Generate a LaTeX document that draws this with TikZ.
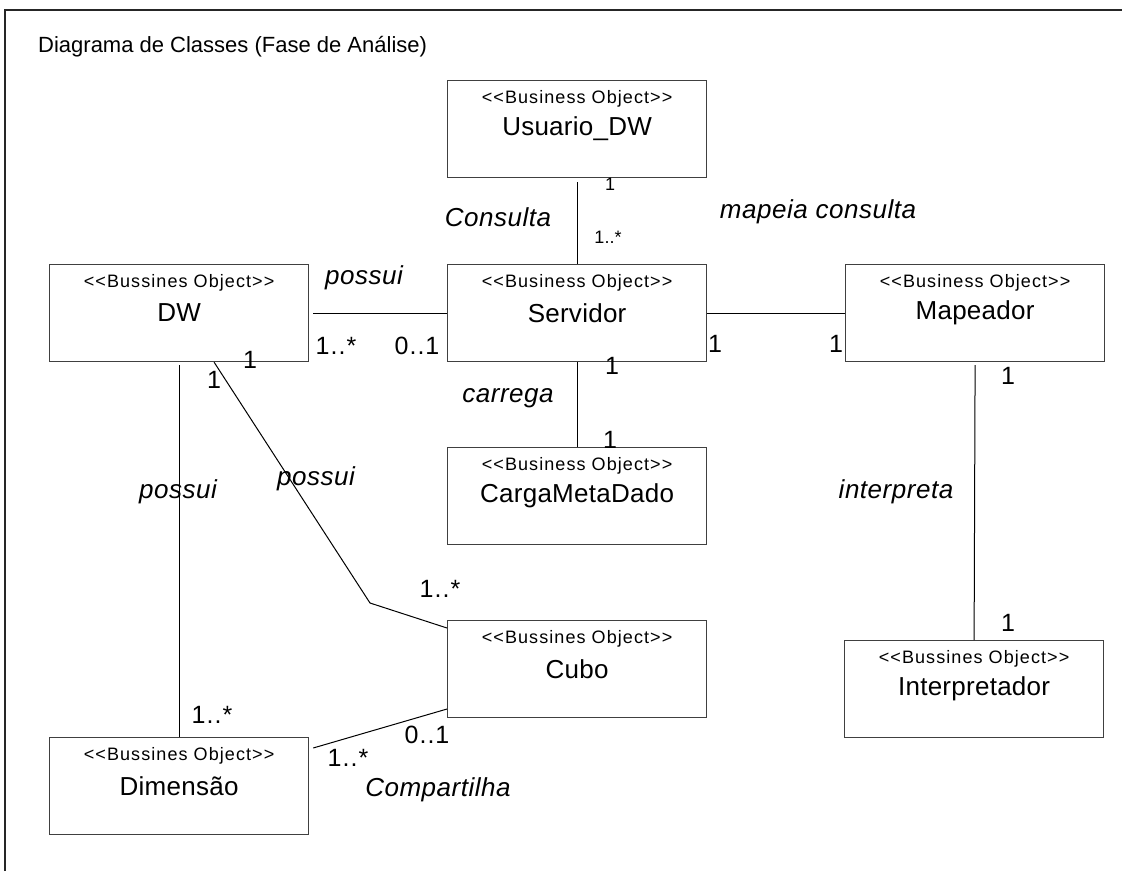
\documentclass[tikz,border=0pt]{standalone}
\usepackage{fontspec}
\setmainfont{Liberation Sans}
\begin{document}
\begin{tikzpicture}[x=1pt,y=-1pt,
  frame/.style={line width=2pt, draw=black!85},
  cls/.style={draw=black!75, line width=1.2pt, rectangle, minimum width=259pt, minimum height=97pt, inner sep=0pt, anchor=north west},
  stereo/.style={font=\fontsize{18}{20}\selectfont\addfontfeature{LetterSpace=6}, inner sep=0pt},
  cname/.style={font=\fontsize{26}{30}\selectfont\addfontfeature{LetterSpace=1}, inner sep=0pt},
  assoc/.style={draw=black, line width=1pt},
  lab/.style={font=\fontsize{26}{30}\selectfont\itshape\addfontfeature{LetterSpace=2}, inner sep=0pt},
  mult/.style={font=\fontsize{25}{29}\selectfont\addfontfeature{LetterSpace=4}, inner sep=0pt},
  smult/.style={font=\fontsize{18}{20}\selectfont, inner sep=0pt},
  ttl/.style={font=\fontsize{22}{26}\selectfont, inner sep=0pt, anchor=west}]
\useasboundingbox (0,0) rectangle (1122,871);
\newcommand{\umlclass}[4]{%
  \node[cls] (#1) at (#2) {};
  \node[stereo] (#1s) at ([yshift=-19pt]#1.north) {<{}<#3>{}>};
  \node[cname] (#1n) at ([yshift=-49pt]#1.north) {#4};}
% frame
\coordinate (fbl) at (5,871);
\coordinate (ftl) at (5,10);
\coordinate (ftr) at (1122,10);
\draw[frame] (fbl) -- (ftl) -- (ftr);
\node[ttl] (title) at (38,47) {Diagrama de Classes (Fase de Análise)};
% classes
\umlclass{usr}{447,80}{Business Object}{Usuario\_DW}
\umlclass{dw}{49,264}{Bussines Object}{DW}
\umlclass{srv}{447,264}{Business Object}{Servidor}
\umlclass{map}{845,264}{Business Object}{Mapeador}
\umlclass{carga}{447,447}{Business Object}{CargaMetaDado}
\umlclass{cubo}{447,620}{Bussines Object}{Cubo}
\umlclass{interp}{844,640}{Bussines Object}{Interpretador}
\umlclass{dim}{49,737}{Bussines Object}{Dimensão}
% associations
\draw[assoc] ([yshift=-4pt]usr.south) -- (srv.north);
\draw[assoc] ([xshift=4pt]dw.east) -- (srv.west);
\draw[assoc] (srv.east) -- (map.west);
\draw[assoc] (srv.south) -- (carga.north);
\draw[assoc] ([yshift=-3pt]map.south) -- (interp.north);
\draw[assoc] ([yshift=-3pt]dw.south) -- (dim.north);
\coordinate (bend) at (370,603);
\draw[assoc] ([xshift=35pt]dw.south) -- (bend) -- ([yshift=-8pt]cubo.north west);
\draw[assoc] ([yshift=-89pt]cubo.north west) -- ([xshift=4pt,yshift=-11pt]dim.north east);
% association labels
\node[lab] (lConsulta) at (498,217) {Consulta};
\node[lab] (lMapeia) at (818,212) {mapeia consulta};
\node[lab] (lPossui1) at (364,278) {possui};
\node[lab] (lCarrega) at (508,398) {carrega};
\node[lab] (lPossui2) at (316,479) {possui};
\node[lab] (lPossui3) at (178,492) {possui};
\node[lab] (lInterp) at (896,492) {interpreta};
\node[lab] (lComp) at (438,790) {Compartilha};
% multiplicities
\node[smult] (m1) at (610,184) {1};
\node[smult] (m2) at (608,237) {1..*};
\node[mult] (m3) at (336,346) {1..*};
\node[mult] (m4) at (417,346) {0..1};
\node[mult] (m5) at (715,344) {1};
\node[mult] (m6) at (836,344) {1};
\node[mult] (m7) at (1008,376) {1};
\node[mult] (m8) at (612,366) {1};
\node[mult] (m9) at (610,440) {1};
\node[mult] (m10) at (250,360) {1};
\node[mult] (m11) at (214,380) {1};
\node[mult] (m12) at (440,589) {1..*};
\node[mult] (m13) at (212,715) {1..*};
\node[mult] (m14) at (427,735) {0..1};
\node[mult] (m15) at (348,758) {1..*};
\node[mult] (m16) at (1008,623) {1};
\end{tikzpicture}
\end{document}
